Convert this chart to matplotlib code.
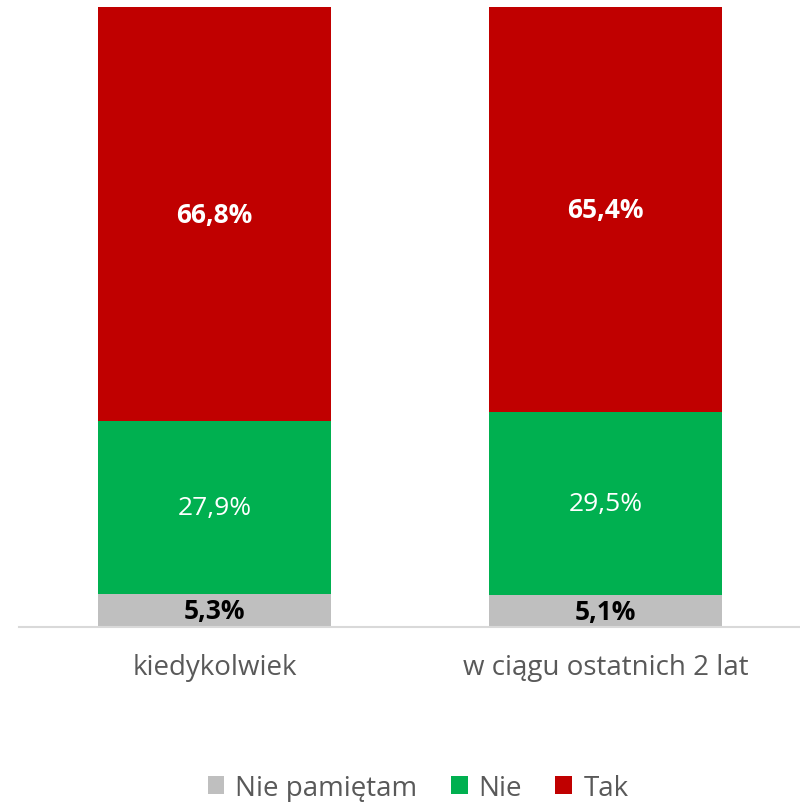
import matplotlib
matplotlib.use("Agg")
import matplotlib.pyplot as plt
from matplotlib.patches import Patch

plt.rcParams['font.family'] = ['Open Sans', 'DejaVu Sans']

categories = ["kiedykolwiek", "w ciągu ostatnich 2 lat"]
series_names = ["Nie pamiętam", "Nie", "Tak"]
nie_pamietam = [5.3, 5.1]
nie = [27.9, 29.5]
tak = [66.8, 65.4]
colors = ["#BFBFBF", "#00B050", "#C00000"]
label_colors = ["black", "white", "white"]
label_weights = ["bold", "normal", "bold"]

fig = plt.figure(figsize=(8.0, 8.03), dpi=100)
ax = fig.add_axes([19/800, 1-628/803, 782/800, (628-8)/803])

x = list(range(len(categories)))
bottom = [0.0]*len(categories)
for vals, col, lc, lw in zip([nie_pamietam, nie, tak], colors, label_colors, label_weights):
    ax.bar(x, vals, width=0.596, bottom=bottom, color=col, edgecolor='none')
    for xi, v, b in zip(x, vals, bottom):
        ax.text(xi, b + v/2, f"{v:.1f}%".replace('.', ','), ha='center', va='center',
                color=lc, fontsize=19, fontweight=lw)
    bottom = [b + v for b, v in zip(bottom, vals)]

ax.set_xlim(-0.5, 1.5)
ax.set_ylim(0, 100)
ax.set_yticks([])
ax.set_xticks(x)
ax.set_xticklabels(categories, fontsize=20, color='#595959')
ax.tick_params(axis='x', length=0, pad=19)
for s in ['top', 'right', 'left']:
    ax.spines[s].set_visible(False)
ax.spines['bottom'].set_color('#D9D9D9')
ax.spines['bottom'].set_linewidth(1.5)

handles = [Patch(facecolor=c, edgecolor='none') for c in colors]
fig.legend(handles, series_names, loc='center', bbox_to_anchor=(418/800, 1-789/803),
           ncol=3, frameon=False, fontsize=20, labelcolor='#595959',
           handlelength=0.6, handleheight=0.6, handletextpad=0.4, columnspacing=1.2,
           borderpad=0, borderaxespad=0)

fig.savefig("out.png", dpi=100)
